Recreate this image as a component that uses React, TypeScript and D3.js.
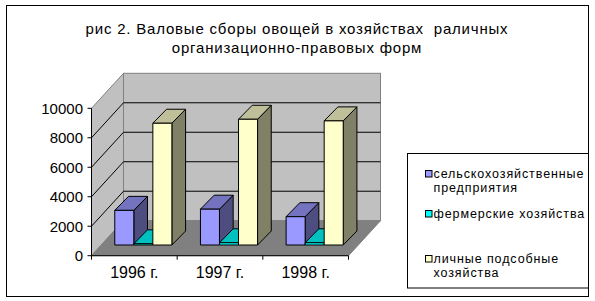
import React from "react";
import * as d3 from "d3";

const categories = ["1996 г.", "1997 г.", "1998 г."];
const seriesNames = ["сельскохозяйственные предприятия", "фермерские хозяйства", "личные подсобные хозяйства"];
const agriEnterprises = [2350, 2430, 1920];
const farms = [80, 150, 150];
const households = [8260, 8530, 8420];
const valueTicks = [0, 2000, 4000, 6000, 8000, 10000];

const seriesValues = [agriEnterprises, farms, households];
const faceColors = [
  { front: "#9999FF", top: "#7373BF", side: "#4D4D80" },
  { front: "#00FFFF", top: "#00C0C0", side: "#008080" },
  { front: "#FFFFCC", top: "#BFBF99", side: "#808066" },
];
const legendLines = [["сельскохозяйственные", "предприятия"], ["фермерские хозяйства"], ["личные подсобные", "хозяйства"]];

const FONT = "'Liberation Sans', Arial, sans-serif";

export default function App() {
  const W = 595, H = 301;
  const x0 = 91.5, x1 = 348.5;
  const y = d3.scaleLinear().domain([0, 10000]).range([255.7, 108.3]);
  const DX = 32, DY = 35; // full depth
  const BX = 9, BY = 10.7; // bar front offset
  const BDX = 13.7, BDY = 14; // bar thickness
  const xCat = d3.scaleBand<string>().domain(categories).range([x0, x1]).paddingInner(0).paddingOuter(0);
  const xSer = d3.scaleBand<number>().domain([0, 1, 2]).range([0, xCat.bandwidth()]).paddingInner(0).paddingOuter(0.75);
  const w = xSer.bandwidth();
  const y0 = y(0), yTop = y(10000);
  const bl = x0 + DX, br = x1 + DX;

  const pts = (a: number[][]) => a.map((p) => p.join(",")).join(" ");

  const bars: JSX.Element[] = [];
  categories.forEach((c, ci) => {
    seriesValues.forEach((vals, si) => {
      const v = vals[ci];
      const fx = (xCat(c) as number) + (xSer(si) as number) + BX;
      const yt = y(v) - BY;
      const yb = y0 - BY;
      const col = faceColors[si];
      bars.push(
        <g key={`${ci}-${si}`} stroke="#000" strokeWidth={1} strokeLinejoin="round">
          <polygon points={pts([[fx + w, yt], [fx + w + BDX, yt - BDY], [fx + w + BDX, yb - BDY], [fx + w, yb]])} fill={col.side} />
          <polygon points={pts([[fx, yt], [fx + BDX, yt - BDY], [fx + w + BDX, yt - BDY], [fx + w, yt]])} fill={col.top} />
          <rect x={fx} y={yt} width={w} height={yb - yt} fill={col.front} />
        </g>
      );
    });
  });

  return (
    <svg width={W} height={H} style={{ position: "absolute", left: 0, top: 0, background: "#fff" }} fontFamily={FONT}>
      <rect x={0} y={0} width={W} height={H} fill="#fff" />
      <rect x={6.5} y={5.5} width={582} height={291} fill="none" stroke="#000" />
      <text x={297} y={34} textAnchor="middle" fontSize={15} letterSpacing={0.8} fill="#000" style={{ whiteSpace: "pre" }}>
        рис 2. Валовые сборы овощей в хозяйствах  раличных
      </text>
      <text x={297} y={53} textAnchor="middle" fontSize={15} letterSpacing={0.8} fill="#000">
        организационно-правовых форм
      </text>

      {/* walls */}
      <polygon points={pts([[x0, yTop], [bl, yTop - DY], [bl, y0 - DY], [x0, y0]])} fill="#C0C0C0" stroke="#808080" />
      <rect x={bl} y={yTop - DY} width={br - bl} height={y0 - yTop} fill="#C0C0C0" stroke="#808080" />
      {/* gridlines */}
      {valueTicks.filter((t) => t > 0 && t < 10000).map((t) => (
        <g key={t} stroke="#000">
          <line x1={bl} x2={br} y1={y(t) - DY} y2={y(t) - DY} />
          <line x1={x0} y1={y(t)} x2={bl} y2={y(t) - DY} />
        </g>
      ))}
      {/* floor */}
      <polygon points={pts([[x0, y0], [bl, y0 - DY], [br, y0 - DY], [x1, y0]])} fill="#808080" stroke="#808080" />

      {bars}

      {/* axes */}
      <line x1={x0} x2={x0} y1={y0} y2={yTop} stroke="#000" />
      {valueTicks.map((t) => (
        <g key={t}>
          <line x1={x0 - 4} x2={x0} y1={y(t)} y2={y(t)} stroke="#000" />
          <text x={83} y={y(t) + 5.5} textAnchor="end" fontSize={15} fill="#000">{t}</text>
        </g>
      ))}
      <line x1={x0} x2={x1} y1={y0} y2={y0} stroke="#000" />
      {[...categories.map((c) => xCat(c) as number), x1].map((xx, i) => (
        <line key={i} x1={xx} x2={xx} y1={y0} y2={y0 + 4} stroke="#000" />
      ))}
      {categories.map((c) => (
        <text key={c} x={(xCat(c) as number) + xCat.bandwidth() / 2} y={278} textAnchor="middle" fontSize={16} fill="#000">{c}</text>
      ))}

      {/* legend */}
      <rect x={407.5} y={153.5} width={181} height={134.5} fill="#fff" stroke="#000" />
      {legendLines.map((lines, i) => {
        const my = [170, 210, 255][i];
        return (
          <g key={i}>
            <rect x={425.5} y={my + 0.5} width={6.5} height={6.5} fill={faceColors[i].front} stroke="#000" />
            {lines.map((l, j) => (
              <text key={j} x={433.5} y={my + 7.5 + j * 14} fontSize={12.5} letterSpacing={0.9} fill="#000">{l}</text>
            ))}
          </g>
        );
      })}
    </svg>
  );
}
